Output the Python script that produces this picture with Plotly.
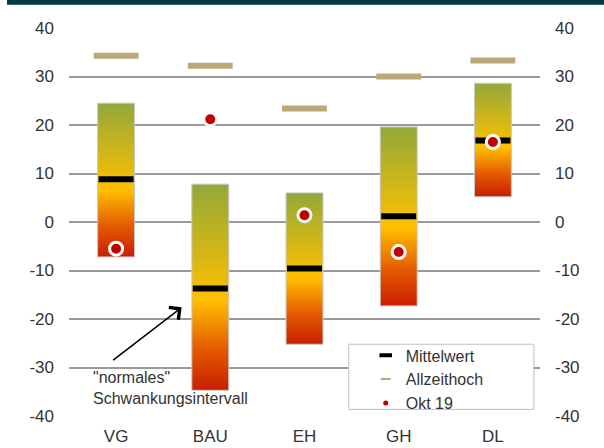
import plotly.graph_objects as go

categories = ["VG", "BAU", "EH", "GH", "DL"]
band_high = [24.5, 7.8, 6.0, 19.6, 28.6]
band_low = [-7.2, -34.7, -25.2, -17.3, 5.2]
mittelwert = [8.8, -13.7, -9.6, 1.2, 16.8]
allzeithoch = [34.3, 32.2, 23.4, 30.0, 33.3]
okt19 = [-5.5, 21.2, 1.4, -6.2, 16.5]
y_ticks = [-40, -30, -20, -10, 0, 10, 20, 30, 40]
y_ticktext = [str(v) for v in y_ticks]

FONT = "Liberation Sans, Arial, sans-serif"
TXT = "#333333"
GRID = "#9a9a9a"
TAN = "#bba877"
RED = "#c00000"

grad = [[0.0, "#c81e00"], [0.2, "#e45a00"], [0.44, "#ffc000"], [0.72, "#c9b41d"], [1.0, "#93a83a"]]

fig = go.Figure()
hw = 0.196
xs = list(range(len(categories)))
for i, (lo, hi) in enumerate(zip(band_low, band_high)):
    fig.add_trace(go.Scatter(
        x=[i - hw, i + hw, i + hw, i - hw, i - hw],
        y=[lo, lo, hi, hi, lo],
        mode="lines", fill="toself",
        line=dict(color="#c8c8c8", width=1),
        fillgradient=dict(type="vertical", colorscale=grad),
        showlegend=False, hoverinfo="skip"))

fig.add_trace(go.Scatter(x=xs, y=allzeithoch, mode="markers", showlegend=False,
                         marker=dict(symbol="line-ew", size=32, line=dict(color=TAN, width=6))))
fig.add_trace(go.Scatter(x=xs, y=mittelwert, mode="markers", showlegend=False,
                         marker=dict(symbol="line-ew", size=25, line=dict(color="black", width=6))))
fig.add_trace(go.Scatter(x=xs, y=okt19, mode="markers", showlegend=False,
                         marker=dict(symbol="circle", size=13, color=RED, line=dict(color="white", width=3))))

# legend-only entries
fig.add_trace(go.Scatter(x=[None], y=[None], mode="markers", name="Mittelwert",
                         marker=dict(symbol="line-ew", size=9, line=dict(color="black", width=4))))
fig.add_trace(go.Scatter(x=[None], y=[None], mode="markers", name="Allzeithoch",
                         marker=dict(symbol="line-ew", size=7, line=dict(color=TAN, width=2))))
fig.add_trace(go.Scatter(x=[None], y=[None], mode="markers", name="Okt 19",
                         marker=dict(symbol="circle", size=5, color=RED)))
# right axis carrier
fig.add_trace(go.Scatter(x=[None], y=[None], yaxis="y2", showlegend=False))

fig.add_annotation(x=0.696, y=-17.6, ax=-0.047, ay=-28.7, xref="x", yref="y", axref="x", ayref="y",
                   text="", showarrow=True, arrowhead=4, arrowsize=2, arrowwidth=1.5, arrowcolor="black")
fig.add_annotation(x=-0.27, y=-34.3, xref="x", yref="y", xanchor="left", yanchor="middle", align="left",
                   text="\"normales\"<br>Schwankungsintervall", showarrow=False,
                   font=dict(family=FONT, size=16, color=TXT))

fig.update_layout(
    width=604, height=448, autosize=False,
    margin=dict(l=69, r=64, t=28, b=32, pad=0),
    paper_bgcolor="white", plot_bgcolor="white",
    font=dict(family=FONT, size=17, color=TXT),
    xaxis=dict(range=[-0.5, 4.5], tickvals=xs, ticktext=categories, showgrid=False,
               zeroline=False, showline=False, ticks="", ticklabelstandoff=8, automargin=False,
               tickfont=dict(size=17, color=TXT)),
    xaxis2=dict(range=[-0.5, 4.5], overlaying="x", anchor="free", position=0.5,
                tickvals=[-0.5, 0.5, 1.5, 2.5, 3.5, 4.5], ticks="outside", ticklen=5,
                tickwidth=1.5, tickcolor=GRID, showticklabels=False, showgrid=False,
                zeroline=False, showline=False, automargin=False),
    yaxis=dict(range=[-40, 40], tickvals=y_ticks, ticktext=y_ticktext, showgrid=True,
               gridcolor=GRID, gridwidth=2, automargin=False,
               zeroline=False, showline=False, ticks="", ticklabelstandoff=14,
               tickfont=dict(size=17, color=TXT)),
    yaxis2=dict(range=[-40, 40], tickvals=y_ticks, ticktext=y_ticktext, overlaying="y",
                side="right", showgrid=False, automargin=False,
                zeroline=False, showline=False, ticks="", ticklabelstandoff=14,
                tickfont=dict(size=17, color=TXT)),
    legend=dict(x=0.63, y=0.2, xanchor="left", yanchor="top", bgcolor="rgba(0,0,0,0)",
                borderwidth=0, font=dict(family=FONT, size=16, color=TXT),
                tracegroupgap=0, itemsizing="trace"),
    shapes=[
        dict(type="rect", xref="paper", yref="paper", x0=0.594, x1=0.987, y0=0.017, y1=0.185,
             fillcolor="white", line=dict(color="#bfbfbf", width=1), layer="above"),
        dict(type="rect", xref="paper", yref="paper", x0=-0.1316, x1=1.14, y0=1.060, y1=1.08,
             fillcolor="#003845", line=dict(width=0), layer="above"),
    ],
)

fig.write_html("out.html", config={"displayModeBar": False},
               post_script="document.body.style.margin='0';document.body.style.overflow='hidden';")
